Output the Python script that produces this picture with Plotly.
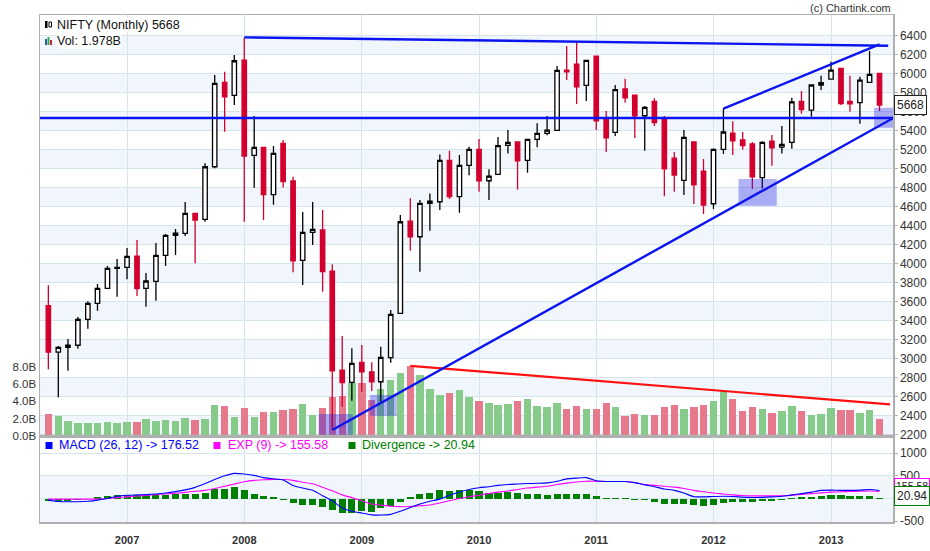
import plotly.graph_objects as go
import pandas as pd

# ---------------- data ----------------
MONTHS = pd.date_range("2006-05-01", "2013-06-01", freq="MS")

OPEN = [3558,3071,3121,3143,3414,3583,3741,3951,3962,4080,
        3741,3815,4088,4298,4319,4529,4466,5019,5906,5769,
        6140,5139,5223,4725,5265,4869,4035,4330,4354,3923,
        2882,2753,2963,2864,2759,3012,3478,4448,4283,4634,
        4651,5086,4704,5034,5202,4872,4939,5244,5279,5086,
        5307,5370,5401,6035,6098,5874,6182,5525,5380,5836,
        5772,5555,5706,5524,5109,4876,5279,4974,4630,5202,
        5373,5300,5258,4904,5289,5226,5276,5706,5615,5878,
        5941,6053,5706,5692,5906,6001]
HIGH = [3774,3134,3208,3440,3605,3786,3975,4049,4165,4249,
        3902,4217,4312,4364,4648,4529,5055,5983,6018,6193,
        6375,5552,5223,5237,5299,4914,4543,4648,4564,3993,
        3240,3110,3145,2963,3128,3513,4511,4687,4669,4739,
        5149,5187,5142,5229,5310,4992,5331,5405,5279,5310,
        5475,5552,6077,6288,6333,6140,6182,5604,5878,5945,
        5772,5657,5738,5552,5173,5405,5279,5100,5212,5630,
        5496,5384,5279,5286,5352,5447,5744,5815,5880,5975,
        6122,6053,5975,5965,6235,6001]
LOW = [2890,2595,2875,3105,3316,3506,3735,3653,3836,3660,
       3548,3611,3975,4091,4291,4004,4441,5002,5387,5667,
       4441,4798,4459,4620,4802,3910,3776,4196,3705,2252,
       2497,2560,2654,2662,2549,2959,3478,4136,3916,4347,
       4564,4681,4536,4930,4756,4669,4935,5157,4779,4956,
       5223,5349,5401,5930,5678,5710,5405,5174,5342,5692,
       5321,5187,5447,4710,4756,4721,4627,4522,4574,5152,
       5142,5200,4784,4791,5030,5157,5209,5577,5545,5825,
       5941,5667,5597,5472,5906,5604]
CLOSE = [3071,3121,3143,3414,3583,3741,3951,3962,4077,3737,
         3818,4088,4298,4322,4529,4459,5019,5896,5755,6133,
         5132,5223,4725,5160,4862,4031,4330,4361,3916,2875,
         2749,2953,2864,2759,3016,3468,4441,4283,4634,4658,
         5086,4704,5034,5202,4872,4921,5241,5276,5082,5307,
         5370,5405,6032,6017,5860,6137,5502,5324,5829,5744,
         5553,5643,5482,4998,4932,5328,4828,4617,5202,5384,
         5292,5240,4914,5276,5218,5254,5700,5619,5878,5903,
         6035,5682,5681,5930,5990,5668]
VOLUME_B = [2.54,2.30,1.77,1.50,1.50,1.50,1.60,1.50,1.60,1.60,
            1.96,1.73,1.85,1.73,2.08,1.85,1.96,3.58,3.46,2.19,
            3.23,2.19,2.77,2.77,3.00,3.12,3.69,2.42,3.23,4.50,
            4.62,6.15,6.15,4.15,5.42,6.46,7.27,8.10,7.04,5.42,
            4.73,4.96,5.30,4.50,4.04,3.80,3.58,3.69,4.04,4.27,
            3.46,3.35,3.80,3.12,3.46,3.12,3.12,3.80,3.35,2.30,
            2.54,2.42,2.42,3.35,3.58,3.12,3.35,3.58,4.04,5.20,
            4.27,2.88,3.35,3.12,2.65,2.88,3.46,2.88,2.42,2.54,
            3.23,3.00,3.00,2.65,3.00,1.98]
MACD = [-36,-65,-72,-72,-60,-36,0,50,72,80,
        86,100,120,151,190,245,330,420,500,554,
        540,510,460,435,410,288,230,180,60,-50,
        -210,-280,-320,-360,-365,-350,-280,-200,-120,-60,
        -14,70,144,200,238,260,290,310,320,330,
        335,345,380,432,450,461,390,374,374,374,
        350,300,260,210,180,120,40,36,45,50,
        45,30,22,25,35,50,80,108,140,180,
        185,180,180,185,200,176.52]
SIGNAL = [-14,-14,-14,-14,-14,-14,0,20,36,55,
          70,85,100,115,135,160,180,220,270,320,
          370,400,412,418,418,400,360,324,250,170,
          80,20,-50,-120,-144,-170,-180,-175,-160,-144,
          -100,-50,0,40,72,110,140,166,200,230,
          250,270,310,340,365,382,380,374,374,374,
          350,310,290,270,250,220,180,150,120,100,
          80,65,58,58,58,60,70,90,108,125,
          140,148,155,160,165,155.58]
DIVERGENCE = [-50,-50,-50,-36,0,36,58,72,86,79,
              72,72,79,94,108,108,122,202,209,245,
              180,108,58,29,-22,-94,-144,-144,-187,-252,
              -317,-317,-281,-295,-202,-173,-79,29,94,115,
              180,166,180,187,158,130,130,137,115,94,
              94,72,108,108,108,108,50,4,3,3,
              -36,-36,-72,-122,-130,-130,-144,-158,-137,-94,
              -79,-79,-72,-58,-58,-29,3,29,36,58,
              72,72,50,50,50,20.94]

PRICE_TICKS = list(range(2200, 6401, 200))
VOL_TICKS = [0, 2, 4, 6, 8]
VOL_TICK_TEXT = ["0.0B", "2.0B", "4.0B", "6.0B", "8.0B"]
MACD_TICKS = [-500, 0, 500, 1000]
MACD_TICK_TEXT = ["-500", "", "500", "1000"]
YEARS = ["2007", "2008", "2009", "2010", "2011", "2012", "2013"]

# drawn trend lines / zones (date, price)
TOP_LINE = (["2008-01-01", "2013-06-28"], [6379, 6291])
UPPER_RISE = (["2012-02-01", "2013-06-01"], [5630, 6305])
LOWER_RISE = (["2008-10-01", "2013-07-13"], [2252, 5529])
H_LINE = (["2006-04-05", "2013-07-13"], [5531, 5531])
VOL_LINE = (["2009-06-01", "2013-07-04"], [8.10, 3.65])
ZONES = [("2008-08-20", "2008-12-04", 2189, 2420),
         ("2009-01-26", "2009-04-20", 2400, 2620),
         ("2012-03-19", "2012-07-16", 4609, 4890),
         ("2013-05-15", "2013-07-13", 5429, 5639)]

LAST_CLOSE = "5668"
LAST_VOL = "1.978B"
MACD_LAST, EXP_LAST, DIV_LAST = 176.52, 155.58, 20.94

# ---------------- styling ----------------
FONT = "Liberation Sans, Arial, sans-serif"
X_RANGE = ["2006-04-05", "2013-07-13"]
GRID = "#d4e5ee"
BAND = "#f1f6fd"
FRAME = "#b0b0b0"
RED = "#d2002e"
BAR_W = 23 * 86400000
HIST_W = 22 * 86400000

def px_x(X):
    return (X - 40) / 853.0

def px_y(Y):
    return (522 - Y) / 507.0

up = [c >= o for o, c in zip(OPEN, CLOSE)]
vol_colors = ["#86cb8a" if u else "#e67a8c" for u in up]

fig = go.Figure()

fig.add_trace(go.Bar(x=MONTHS, y=VOLUME_B, width=BAR_W, marker=dict(color=vol_colors, line=dict(width=0)),
                     xaxis="x", yaxis="y", hoverinfo="skip"))
fig.add_trace(go.Scatter(x=VOL_LINE[0], y=VOL_LINE[1], mode="lines", line=dict(color="#ff1010", width=2.2),
                         xaxis="x", yaxis="y", hoverinfo="skip"))

fig.add_trace(go.Candlestick(x=MONTHS, open=OPEN, high=HIGH, low=LOW, close=CLOSE, xaxis="x", yaxis="y2",
                             whiskerwidth=0,
                             increasing=dict(line=dict(color="black", width=1.3), fillcolor="white"),
                             decreasing=dict(line=dict(color=RED, width=1.3), fillcolor=RED)))

for ln in (TOP_LINE, UPPER_RISE, LOWER_RISE, H_LINE):
    fig.add_trace(go.Scatter(x=ln[0], y=ln[1], mode="lines", line=dict(color="#0a14f0", width=2.4),
                             xaxis="x", yaxis="y2", hoverinfo="skip"))

# MACD panel
fig.add_trace(go.Bar(x=MONTHS, y=DIVERGENCE, width=HIST_W, marker=dict(color="#008000", line=dict(width=0)),
                     xaxis="x2", yaxis="y3", hoverinfo="skip"))
fig.add_trace(go.Scatter(x=MONTHS, y=SIGNAL, mode="lines", line=dict(color="#ff00ff", width=1.1, shape="spline", smoothing=0.6),
                         xaxis="x2", yaxis="y3", hoverinfo="skip"))
fig.add_trace(go.Scatter(x=MONTHS, y=MACD, mode="lines", line=dict(color="#0000ff", width=1.1, shape="spline", smoothing=0.6),
                         xaxis="x2", yaxis="y3", hoverinfo="skip"))

shapes = []
# price bands
for lo in range(2200, 6401, 400):
    shapes.append(dict(type="rect", xref="paper", yref="y2", x0=0, x1=1, y0=lo, y1=lo + 200,
                       fillcolor=BAND, line=dict(width=0), layer="below"))
# macd bands
shapes.append(dict(type="rect", xref="paper", yref="y3", x0=0, x1=1, y0=-518, y1=500,
                   fillcolor=BAND, line=dict(width=0), layer="below"))
# zones
for d0, d1, p0, p1 in ZONES:
    shapes.append(dict(type="rect", xref="x", yref="y2", x0=d0, x1=d1, y0=p0, y1=p1,
                       fillcolor="rgba(20,20,230,0.33)", line=dict(width=0), layer="above"))
# separator between panels
shapes.append(dict(type="line", xref="paper", yref="paper", x0=0, x1=1, y0=px_y(436), y1=px_y(436),
                   line=dict(color=FRAME, width=2.5)))
# legend icons
shapes += [
    dict(type="rect", xref="paper", yref="paper", x0=px_x(45), x1=px_x(47.5), y0=px_y(28), y1=px_y(21),
         fillcolor="black", line=dict(width=0)),
    dict(type="rect", xref="paper", yref="paper", x0=px_x(49), x1=px_x(51.5), y0=px_y(27), y1=px_y(22),
         fillcolor="white", line=dict(color="black", width=1)),
    dict(type="rect", xref="paper", yref="paper", x0=px_x(45), x1=px_x(47), y0=px_y(45), y1=px_y(39),
         fillcolor="#3355aa", line=dict(width=0)),
    dict(type="rect", xref="paper", yref="paper", x0=px_x(47.5), x1=px_x(49.5), y0=px_y(45), y1=px_y(37),
         fillcolor="#33aa55", line=dict(width=0)),
    dict(type="rect", xref="paper", yref="paper", x0=px_x(50), x1=px_x(52), y0=px_y(45), y1=px_y(40),
         fillcolor="#cc2233", line=dict(width=0)),
]
for xc, col in ((45.5, "#0000ff"), (213.5, "#ff00ff"), (348.5, "#008000")):
    shapes.append(dict(type="rect", xref="paper", yref="paper", x0=px_x(xc), x1=px_x(xc + 7),
                       y0=px_y(449), y1=px_y(442), fillcolor=col, line=dict(width=0)))

annotations = [
    dict(text="(c) Chartink.com", xref="paper", yref="paper", x=1.0, y=px_y(8), xanchor="right", yanchor="middle",
         showarrow=False, font=dict(size=11, color="#333333", family=FONT)),
    dict(text="NIFTY (Monthly) " + LAST_CLOSE, xref="paper", yref="paper", x=px_x(56), y=px_y(25),
         xanchor="left", yanchor="middle", showarrow=False, bgcolor="white", borderpad=0,
         font=dict(size=12.5, color="#111111", family=FONT)),
    dict(text="Vol: " + LAST_VOL, xref="paper", yref="paper", x=px_x(56), y=px_y(41),
         xanchor="left", yanchor="middle", showarrow=False, bgcolor="white", borderpad=0,
         font=dict(size=12.5, color="#111111", family=FONT)),
    dict(text="MACD (26, 12) -> %.2f" % MACD_LAST, xref="paper", yref="paper", x=px_x(57), y=px_y(445),
         xanchor="left", yanchor="middle", showarrow=False, font=dict(size=12.5, color="#0000ff", family=FONT)),
    dict(text="EXP (9) -> %.2f" % EXP_LAST, xref="paper", yref="paper", x=px_x(226), y=px_y(445),
         xanchor="left", yanchor="middle", showarrow=False, font=dict(size=12.5, color="#ff00ff", family=FONT)),
    dict(text="Divergence -> %.2f" % DIV_LAST, xref="paper", yref="paper", x=px_x(360), y=px_y(445),
         xanchor="left", yanchor="middle", showarrow=False, font=dict(size=12.5, color="#008000", family=FONT)),
    dict(text=LAST_CLOSE, xref="paper", yref="y2", x=1.0, y=5668, xanchor="left", yanchor="middle", xshift=1,
         showarrow=False, bgcolor="white", bordercolor="#222222", borderwidth=1, borderpad=2,
         font=dict(size=12, color="#222222", family=FONT)),
    dict(text="%.2f" % MACD_LAST, xref="paper", yref="y3", x=1.0, y=MACD_LAST, xanchor="left", yanchor="middle",
         xshift=1, yshift=5, showarrow=False, bgcolor="white", bordercolor="#0000ff", borderwidth=1, borderpad=1,
         font=dict(size=10.5, color="#222222", family=FONT)),
    dict(text="%.2f" % EXP_LAST, xref="paper", yref="y3", x=1.0, y=EXP_LAST, xanchor="left", yanchor="middle",
         xshift=1, yshift=5, showarrow=False, bgcolor="white", bordercolor="#ff00ff", borderwidth=1, borderpad=1,
         font=dict(size=10.5, color="#222222", family=FONT)),
    dict(text="%.2f" % DIV_LAST, xref="paper", yref="y3", x=1.0, y=DIV_LAST, xanchor="left", yanchor="middle",
         xshift=1, yshift=2, showarrow=False, bgcolor="white", bordercolor="#008000", borderwidth=1, borderpad=2,
         font=dict(size=12, color="#222222", family=FONT)),
]

year_dates = [y + "-01-01" for y in YEARS]
tickfont = dict(size=12, color="#333333", family=FONT)

fig.update_layout(
    width=930, height=551, autosize=False,
    margin=dict(l=40, r=37, t=15, b=29, autoexpand=False),
    paper_bgcolor="white", plot_bgcolor="white",
    showlegend=False, bargap=0, hovermode=False,
    font=dict(family=FONT),
    shapes=shapes, annotations=annotations,
    xaxis=dict(domain=[0, 1], anchor="y", type="date", range=X_RANGE, tickvals=year_dates,
               showticklabels=False, showgrid=True, gridcolor=GRID, gridwidth=1, automargin=False,
               showline=True, linecolor=FRAME, linewidth=1.5, mirror=True, ticks="",
               rangeslider=dict(visible=False), zeroline=False),
    yaxis=dict(domain=[px_y(436), 1], anchor="x", side="left", range=[0, 48.6], tickvals=VOL_TICKS,
               ticktext=VOL_TICK_TEXT, showgrid=False, zeroline=False, showline=True, linecolor=FRAME,
               linewidth=1.5, ticks="", automargin=False,
               tickfont=dict(size=11.5, color="#333333", family=FONT)),
    yaxis2=dict(overlaying="y", anchor="x", side="right", range=[2189, 6614], tickvals=PRICE_TICKS,
                showgrid=True, gridcolor=GRID, gridwidth=1, zeroline=False, showline=True, linecolor=FRAME,
                linewidth=1.5, ticks="outside", ticklen=3, tickcolor=FRAME, tickfont=tickfont,
                automargin=False),
    xaxis2=dict(domain=[0, 1], anchor="y3", type="date", matches="x", range=X_RANGE, tickvals=year_dates,
                ticktext=["<b>%s</b>" % y for y in YEARS], showgrid=True, gridcolor=GRID, gridwidth=1,
                showline=True, linecolor=FRAME, linewidth=1.5, mirror=True, ticks="outside", ticklen=7,
                tickcolor="rgba(0,0,0,0)", tickfont=dict(size=11, color="#333333", family=FONT),
                rangeslider=dict(visible=False), zeroline=False, automargin=False),
    yaxis3=dict(domain=[0, px_y(437)], anchor="x2", side="right", range=[-518, 1356], tickvals=MACD_TICKS,
                ticktext=MACD_TICK_TEXT, showgrid=True, gridcolor=GRID, gridwidth=1, zeroline=False,
                showline=True, linecolor=FRAME, linewidth=1.5, mirror=True, ticks="outside", ticklen=3,
                tickcolor=FRAME, tickfont=tickfont, automargin=False),
)

fig.write_html("out.html",
               config={"displayModeBar": False, "responsive": False, "staticPlot": True},
               post_script="document.body.style.margin='0px';document.body.style.overflow='hidden';")
